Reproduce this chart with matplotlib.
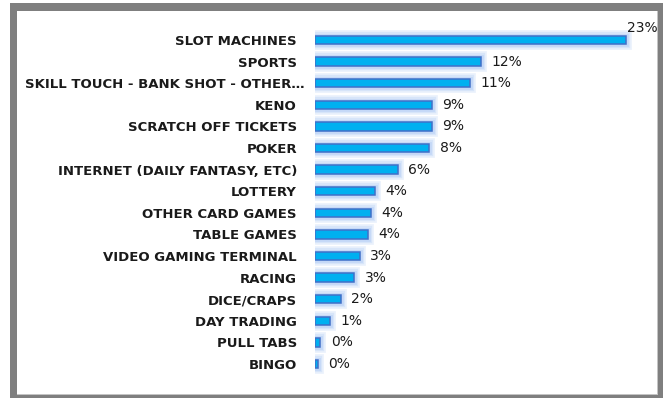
import matplotlib
matplotlib.use("Agg")
import matplotlib.pyplot as plt
import matplotlib.transforms as mtransforms
from matplotlib.patches import Rectangle

categories = [
    "SLOT MACHINES", "SPORTS", "SKILL TOUCH - BANK SHOT - OTHER\u2026", "KENO",
    "SCRATCH OFF TICKETS", "POKER", "INTERNET (DAILY FANTASY, ETC)", "LOTTERY",
    "OTHER CARD GAMES", "TABLE GAMES", "VIDEO GAMING TERMINAL", "RACING",
    "DICE/CRAPS", "DAY TRADING", "PULL TABS", "BINGO",
]
shares = [22.9, 12.2, 11.4, 8.6, 8.6, 8.4, 6.1, 4.4, 4.1, 3.9, 3.3, 2.9, 1.9, 1.1, 0.4, 0.2]

W, H = 663, 398
fig = plt.figure(figsize=(W / 100, H / 100), dpi=100)
fig.patch.set_facecolor("white")

def px_rect(x0, y0, x1, y1, color, z):
    # rectangle given in pixel coords measured from the top-left corner
    fig.add_artist(Rectangle((x0 / W, 1 - y1 / H), (x1 - x0) / W, (y1 - y0) / H,
                             transform=fig.transFigure, facecolor=color,
                             edgecolor="none", zorder=z))

# grey frame around the chart area
px_rect(10, 3, 663, 398, "#7f7f7f", 0)
px_rect(17, 11, 658, 395, "#c4c4c4", 0.1)
px_rect(17, 11, 656.5, 393.5, "white", 0.2)

ax = fig.add_axes([315 / W, (398 - 374.8) / H, 326.4 / W, (374.8 - 29.2) / H])
ax.set_facecolor("none")
ax.set_zorder(1)

y = list(range(len(categories)))
bh = 0.38
# soft halo under each bar
for lw, a in [(8.5, 0.25), (6.0, 0.35), (3.5, 0.5)]:
    ax.barh(y, shares, height=bh, color="#b3cdf6", edgecolor="#b3cdf6",
            linewidth=lw, alpha=a, zorder=1)
ax.barh(y, shares, height=bh, color="#00b0f0", edgecolor="#4070c8",
        linewidth=1.1, zorder=3)

ax.set_xlim(0, 24)
ax.set_ylim(15.5, -0.5)
ax.set_yticks(y)
ax.set_yticklabels(categories, fontsize=9.5, fontweight="bold", color="#1a1a1a")
ax.tick_params(axis="y", length=0, pad=13)
ax.set_xticks([])
for s in ax.spines.values():
    s.set_visible(False)

# the long truncated label runs on up to the bar start
long_label = ax.get_yticklabels()[2]
long_label.set_transform(long_label.get_transform() +
                         mtransforms.ScaledTranslation(8 / 100, 0, fig.dpi_scale_trans))

vmax = max(shares)
for yi, v in zip(y, shares):
    label = f"{v:.0f}%"
    if v == vmax:
        ax.annotate(label, (v, yi), xytext=(0.5, 9), textcoords="offset points",
                    ha="left", va="center", fontsize=10, color="#1a1a1a",
                    annotation_clip=False)
    else:
        ax.annotate(label, (v, yi), xytext=(7.5, 0), textcoords="offset points",
                    ha="left", va="center", fontsize=10, color="#1a1a1a",
                    annotation_clip=False)

fig.savefig("out.png", dpi=100)
